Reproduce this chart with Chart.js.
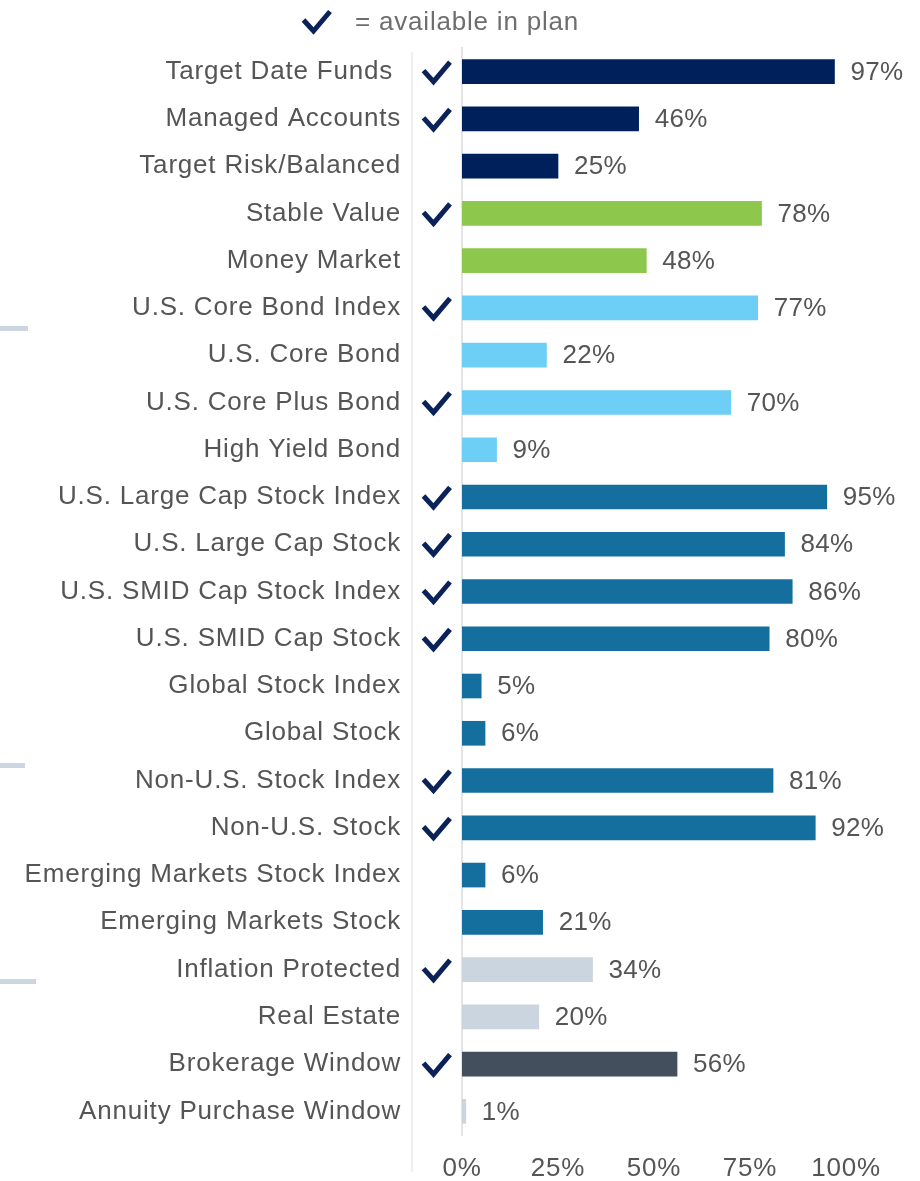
<!DOCTYPE html>
<html>
<head>
<meta charset="utf-8">
<title>Investment options offered</title>
<script src="https://cdn.jsdelivr.net/npm/chart.js@4.4.1/dist/chart.umd.min.js"></script>
<style>
  html, body { margin: 0; padding: 0; background: #ffffff; }
  #wrap { width: 920px; height: 1181px; position: relative; }
  canvas { display: block; }
</style>
</head>
<body>
<div id="wrap"><canvas id="chart" width="920" height="1181"></canvas></div>
<script>
// Share of plans offering each investment option (%)
const categories = [
  'Target Date Funds ', 'Managed Accounts', 'Target Risk/Balanced', 'Stable Value',
  'Money Market', 'U.S. Core Bond Index', 'U.S. Core Bond', 'U.S. Core Plus Bond',
  'High Yield Bond', 'U.S. Large Cap Stock Index', 'U.S. Large Cap Stock',
  'U.S. SMID Cap Stock Index', 'U.S. SMID Cap Stock', 'Global Stock Index',
  'Global Stock', 'Non-U.S. Stock Index', 'Non-U.S. Stock',
  'Emerging Markets Stock Index', 'Emerging Markets Stock', 'Inflation Protected',
  'Real Estate', 'Brokerage Window', 'Annuity Purchase Window'
];
const values = [97, 46, 25, 78, 48, 77, 22, 70, 9, 95, 84, 86, 80, 5, 6, 81, 92, 6, 21, 34, 20, 56, 1];
// Whether the option is available in the plan (shown with a check mark)
const available = [true, true, false, true, false, true, false, true, false, true, true, true, true,
  false, false, true, true, false, false, true, false, true, false];
// Asset class of each option, used for bar colour
const assetClass = [
  'allocation', 'allocation', 'allocation', 'capital', 'capital',
  'bond', 'bond', 'bond', 'bond',
  'equity', 'equity', 'equity', 'equity', 'equity', 'equity', 'equity', 'equity', 'equity', 'equity',
  'real', 'real', 'brokerage', 'real'
];
const xTicks = [0, 25, 50, 75, 100];
const legendText = '= available in plan';

const palette = {
  allocation: '#00205B',
  capital: '#8DC74B',
  bond: '#6DCFF6',
  equity: '#156F9E',
  real: '#CBD5DF',
  brokerage: '#434F5C'
};
const NAVY = '#0A2257';
const TEXT = '#555555';
const FONT = '"Liberation Sans", Arial, sans-serif';
const SPACING = '0.8px';

function drawCheck(ctx, cx, cy) {
  ctx.save();
  ctx.strokeStyle = NAVY;
  ctx.lineWidth = 5;
  ctx.lineJoin = 'miter';
  ctx.lineCap = 'butt';
  ctx.beginPath();
  ctx.moveTo(cx - 12.5, cy - 1);
  ctx.lineTo(cx - 2.5, cy + 10);
  ctx.lineTo(cx + 14, cy - 9.5);
  ctx.stroke();
  ctx.restore();
}

const spacingPlugin = {
  id: 'spacing',
  beforeUpdate(chart) { chart.ctx.letterSpacing = SPACING; },
  beforeDraw(chart) { chart.ctx.letterSpacing = SPACING; }
};

const decorPlugin = {
  id: 'decor',
  beforeDraw(chart) {
    const ctx = chart.ctx;
    ctx.save();
    // divider between labels and check column
    ctx.strokeStyle = '#EEEEEE';
    ctx.lineWidth = 2;
    ctx.beginPath();
    ctx.moveTo(412, chart.chartArea.top + 4);
    ctx.lineTo(412, chart.chartArea.bottom + 37);
    ctx.stroke();
    // small section markers at the left edge
    ctx.fillStyle = '#CDD6E0';
    ctx.fillRect(0, 326, 28, 5);
    ctx.fillRect(0, 763, 25, 5);
    ctx.fillRect(0, 979, 36, 5);
    ctx.restore();
  },
  afterDatasetsDraw(chart) {
    const ctx = chart.ctx;
    const meta = chart.getDatasetMeta(0);
    ctx.save();
    ctx.font = '26px ' + FONT;
    ctx.letterSpacing = '0.3px';
    ctx.fillStyle = TEXT;
    ctx.textAlign = 'left';
    ctx.textBaseline = 'middle';
    meta.data.forEach((bar, i) => {
      ctx.fillText(values[i] + '%', bar.x + 16, bar.y + 1);
      if (available[i]) drawCheck(ctx, 436, bar.y);
    });
    // legend row
    drawCheck(ctx, 316, 21);
    ctx.letterSpacing = SPACING;
    ctx.fillStyle = '#6E6E6E';
    ctx.fillText(legendText, 355, 23);
    ctx.restore();
  }
};

new Chart(document.getElementById('chart'), {
  type: 'bar',
  data: {
    labels: categories,
    datasets: [{
      data: values,
      backgroundColor: assetClass.map(c => palette[c]),
      borderWidth: 0,
      barThickness: 24
    }]
  },
  options: {
    indexAxis: 'y',
    responsive: false,
    animation: false,
    devicePixelRatio: 1,
    layout: { padding: { top: 48, right: 74, left: 0, bottom: 0 } },
    plugins: { legend: { display: false }, tooltip: { enabled: false } },
    scales: {
      x: {
        min: 0, max: 100,
        afterBuildTicks(scale) { scale.ticks = xTicks.map(v => ({ value: v })); },
        afterFit(scale) {
          scale.height = 46;
          scale.paddingLeft = 0;
          scale.paddingRight = 0;
        },
        grid: { display: false, drawTicks: false },
        border: { display: false },
        ticks: {
          padding: 18,
          color: TEXT,
          font: { family: FONT, size: 26 },
          callback: v => v + '%'
        }
      },
      y: {
        afterFit(scale) {
          scale.width = 462;
          scale.paddingTop = 0;
          scale.paddingBottom = 0;
        },
        grid: { display: false, drawTicks: false },
        border: { display: true, color: '#E4E4E4', width: 2 },
        ticks: {
          padding: 61,
          color: TEXT,
          font: { family: FONT, size: 26 },
          autoSkip: false
        }
      }
    }
  },
  plugins: [spacingPlugin, decorPlugin]
});
</script>
</body>
</html>
